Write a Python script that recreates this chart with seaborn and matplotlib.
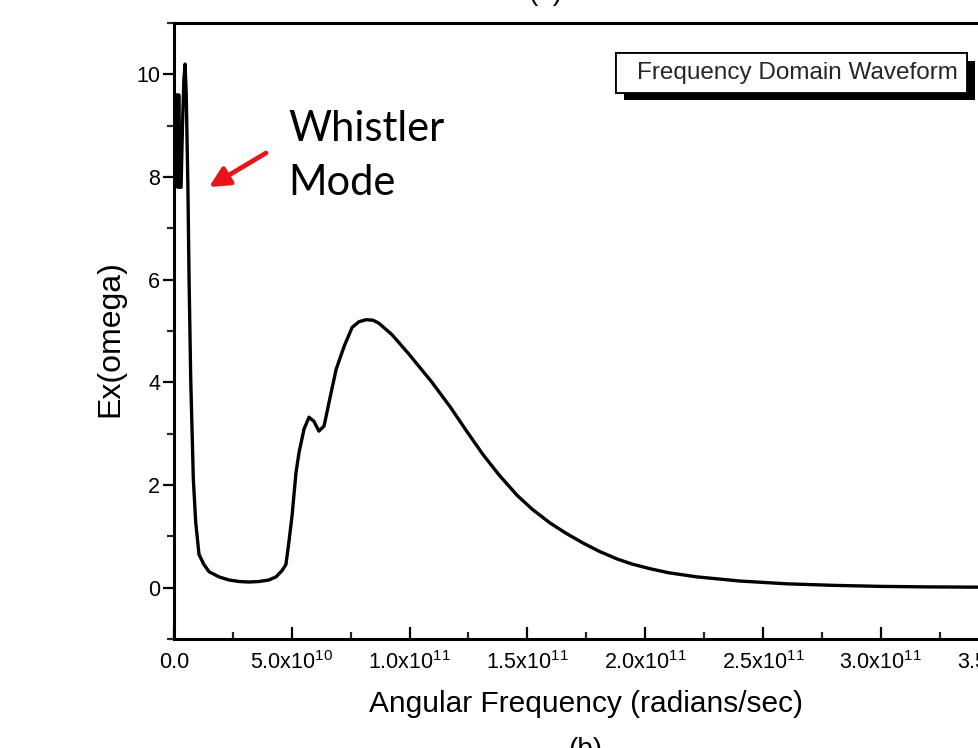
import numpy as np
import pandas as pd
import matplotlib
matplotlib.use("Agg")
import matplotlib.pyplot as plt
import matplotlib.patheffects as pe
from matplotlib.ticker import MultipleLocator
import seaborn as sns

# ---------------- data ----------------
omega_e10 = [0.00, 0.04, 0.08, 0.12, 0.16, 0.20, 0.25, 0.30, 0.36, 0.42, 0.47, 0.52,
             0.59, 0.64, 0.71, 0.82, 0.92, 1.06, 1.27, 1.49, 1.91, 2.33, 2.76, 3.18,
             3.61, 4.03, 4.33, 4.58, 4.75, 4.88, 5.01, 5.18, 5.31, 5.52, 5.73, 5.94,
             6.15, 6.37, 6.58, 6.88, 7.22, 7.56, 7.85, 8.15, 8.45, 8.70, 9.25, 9.97,
             10.31, 10.95, 11.71, 12.39, 13.12, 13.79, 14.56, 15.20, 15.96, 16.64,
             17.36, 18.04, 18.80, 19.44, 20.20, 21.00, 22.20, 24.00, 26.00, 28.00,
             30.00, 32.00, 34.00, 35.00]
ex_omega = [7.3, 9.5, 7.9, 9.6, 7.8, 9.6, 7.8, 7.8, 9.0, 9.9, 10.2, 9.6,
            7.8, 6.0, 4.06, 2.12, 1.28, 0.65, 0.45, 0.31, 0.21, 0.15, 0.12, 0.11,
            0.12, 0.15, 0.21, 0.33, 0.45, 0.90, 1.40, 2.25, 2.64, 3.09, 3.32, 3.24,
            3.05, 3.15, 3.61, 4.25, 4.70, 5.07, 5.18, 5.22, 5.21, 5.15, 4.93, 4.55,
            4.36, 4.00, 3.53, 3.07, 2.59, 2.20, 1.80, 1.53, 1.26, 1.06,
            0.87, 0.71, 0.56, 0.46, 0.37, 0.29, 0.21, 0.13, 0.075, 0.045,
            0.025, 0.015, 0.01, 0.01]

xtick_values = [0.0, 5.0e10, 1.0e11, 1.5e11, 2.0e11, 2.5e11, 3.0e11, 3.5e11]
xtick_labels = ["0.0", "5.0x10$^{10}$", "1.0x10$^{11}$", "1.5x10$^{11}$",
                "2.0x10$^{11}$", "2.5x10$^{11}$", "3.0x10$^{11}$", "3.5x10$^{11}$"]
ytick_values = [0, 2, 4, 6, 8, 10]
legend_label = "Frequency Domain Waveform"

df = pd.DataFrame({"omega": np.array(omega_e10) * 1e10, "ex": ex_omega})

# ---------------- style ----------------
sns.set_theme(style="ticks")
plt.rcParams["font.family"] = ["Liberation Sans", "DejaVu Sans"]
plt.rcParams["mathtext.default"] = "regular"

W, H = 979, 748
fig = plt.figure(figsize=(W / 100, H / 100), dpi=100)
ax_left, ax_right, ax_top, ax_bottom = 174, 998.6, 23, 639
ax = fig.add_axes([ax_left / W, 1 - ax_bottom / H,
                   (ax_right - ax_left) / W, (ax_bottom - ax_top) / H])

sns.lineplot(data=df, x="omega", y="ex", ax=ax, color="black", linewidth=2.4,
             estimator=None, sort=False, label=legend_label)

ax.set_xlim(0, 3.5e11)
ax.set_ylim(-1, 11)
ax.set_xticks(xtick_values, xtick_labels)
ax.set_yticks(ytick_values)
ax.xaxis.set_minor_locator(MultipleLocator(2.5e10))
ax.yaxis.set_minor_locator(MultipleLocator(1))

for s in ax.spines.values():
    s.set_linewidth(2.2)
    s.set_color("black")

ax.tick_params(axis="x", which="major", direction="in", length=9, width=1.6,
               labelsize=15.5, pad=9, colors="black")
ax.tick_params(axis="x", which="minor", direction="in", length=5, width=1.6)
ax.tick_params(axis="y", which="major", direction="out", length=8, width=1.6,
               labelsize=15.5, pad=2, colors="black")
ax.tick_params(axis="y", which="minor", direction="out", length=5, width=1.6)

ax.set_xlabel("Angular Frequency (radians/sec)", fontsize=21.5, labelpad=11, color="black")
ax.set_ylabel("Ex(omega)", fontsize=23, color="black")
ax.yaxis.set_label_coords(-0.059, 0.487)

# legend box with solid shadow
handles, labels = ax.get_legend_handles_labels()
leg = ax.legend(handles, labels, loc="upper right",
                bbox_to_anchor=(967 / W, 1 - 53 / H), bbox_transform=fig.transFigure,
                borderaxespad=0, fontsize=17.5, frameon=True, fancybox=False,
                handlelength=0.4, handletextpad=0.1, borderpad=0.36)
for h in leg.legend_handles:
    h.set_visible(False)
frame = leg.get_frame()
frame.set_edgecolor("black")
frame.set_facecolor("white")
frame.set_linewidth(1.3)
frame.set_alpha(1)
frame.set_path_effects([pe.withSimplePatchShadow(offset=(5.5, -5.5), shadow_rgbFace="black",
                                                 alpha=1.0), pe.Normal()])

# annotation
def px_to_data(px, py):
    x = (px - ax_left) / (ax_right - ax_left) * 3.5e11
    y = 11 - (py - ax_top) / (ax_bottom - ax_top) * 12
    return x, y

head = px_to_data(209, 187)
tail = px_to_data(266, 153)
ax.annotate("", xy=head, xytext=tail,
            arrowprops=dict(arrowstyle="-|>,head_length=1.0,head_width=0.5",
                            color="#e8141a", lw=3.4, shrinkA=0, shrinkB=0))
tx, ty = px_to_data(288, 195)
ax.text(tx, ty, "Whistler\nMode", fontsize=30, family=["Lato", "DejaVu Sans"],
        va="baseline", ha="left", color="black", linespacing=1.52)

# fragments of neighbouring panel captions from the source page
fig.text(545 / W, 1 - 6 / H, "(a)", fontsize=20, ha="center", va="bottom", color="black")
fig.text(585 / W, 1 - 737 / H, "(b)", fontsize=20, ha="center", va="top", color="black")

fig.savefig("out.png", dpi=100)
